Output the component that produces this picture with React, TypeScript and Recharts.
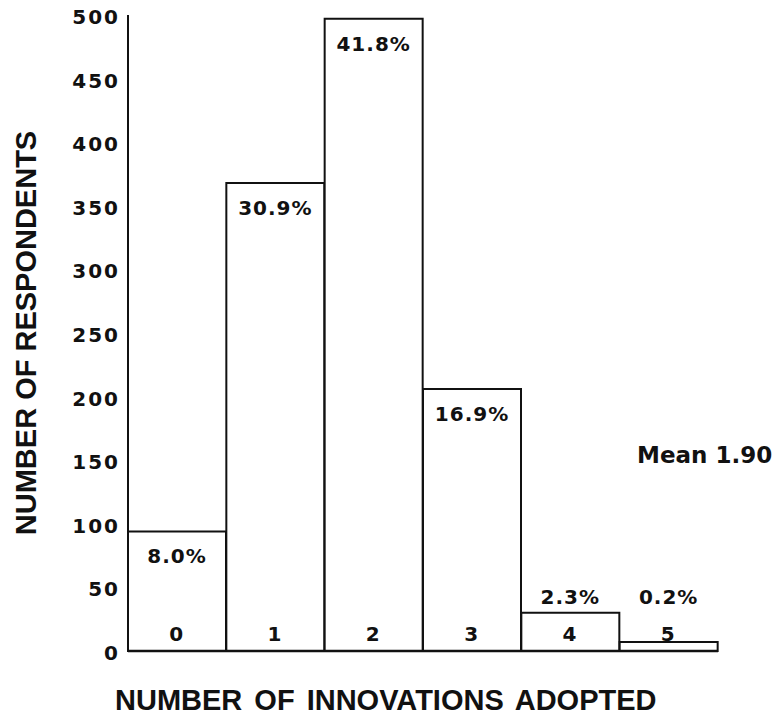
import { Bar, BarChart, Label, LabelList, XAxis, YAxis } from "recharts";

// innovations adopted per respondent
const innovations = ["0", "1", "2", "3", "4", "5"];
const respondents = [94, 368, 497, 206, 30, 7];
const shares = [8.0, 30.9, 41.8, 16.9, 2.3, 0.2];
const countTicks = [0, 50, 100, 150, 200, 250, 300, 350, 400, 450, 500];
const meanAdopted = 1.9;

const data = innovations.map((k, i) => ({
  k,
  n: respondents[i],
  pct: shares[i],
}));

const INK = "#111";
const NUM_FONT = "'DejaVu Sans', sans-serif";
const TITLE_FONT = "'Liberation Sans', Arial, sans-serif";

const numText = {
  fontFamily: NUM_FONT,
  fontWeight: 700,
  fontSize: 20,
  fill: INK,
  letterSpacing: 2,
} as const;

function CountTick({ x, y, payload }: any) {
  return (
    <text x={x} y={y + 2} textAnchor="end" dominantBaseline="central" {...numText}>
      {payload.value}
    </text>
  );
}

// category numbers sit inside the bars, just above the baseline
function InnovationTick({ x, y, payload }: any) {
  return (
    <text x={x} y={y - 17} textAnchor="middle" dominantBaseline="central" {...numText}>
      {payload.value}
    </text>
  );
}

// tall bars get the share inside the top, short ones above the bar
function ShareLabel({ x, y, width, height, value }: any) {
  const cx = x + width / 2;
  const ty = height > 60 ? y + 25 : y + height - 54;
  return (
    <text x={cx} y={ty} textAnchor="middle" dominantBaseline="central" {...numText} letterSpacing={1}>
      {Number(value).toFixed(1)}%
    </text>
  );
}

const titleStyle = {
  fontFamily: TITLE_FONT,
  fontWeight: 700,
  fontSize: 29,
  fill: INK,
} as const;

export default function App() {
  return (
    <div style={{ position: "absolute", left: 0, top: 0, width: 780, height: 720, background: "#fff" }}>
      <BarChart
        width={780}
        height={720}
        data={data}
        margin={{ top: 15, right: 62, bottom: 0, left: 0 }}
        barCategoryGap={0}
      >
        <Bar dataKey="n" fill="#fff" stroke={INK} strokeWidth={2} isAnimationActive={false}>
          <LabelList dataKey="pct" content={ShareLabel} />
        </Bar>
        <YAxis
          width={128}
          domain={[0, 500]}
          ticks={countTicks}
          tickLine={false}
          tickSize={0}
          tickMargin={8}
          axisLine={{ stroke: INK, strokeWidth: 2 }}
          tick={CountTick}
        >
          <Label
            content={({ viewBox }: any) => (
              <text
                x={viewBox.x + 26}
                y={viewBox.y + viewBox.height / 2}
                textAnchor="middle"
                dominantBaseline="central"
                transform={`rotate(-90 ${viewBox.x + 26} ${viewBox.y + viewBox.height / 2})`}
                {...titleStyle}
              >
                NUMBER OF RESPONDENTS
              </text>
            )}
          />
        </YAxis>
        <XAxis
          dataKey="k"
          height={69}
          tickLine={false}
          tickSize={0}
          tickMargin={0}
          axisLine={{ stroke: INK, strokeWidth: 2.5 }}
          tick={InnovationTick}
        >
          <Label
            content={({ viewBox }: any) => (
              <text
                x={viewBox.x - 13}
                y={viewBox.y + 49}
                textAnchor="start"
                dominantBaseline="central"
                wordSpacing={4}
                {...titleStyle}
              >
                NUMBER OF INNOVATIONS ADOPTED
              </text>
            )}
          />
        </XAxis>
      </BarChart>
      <div
        style={{
          position: "absolute",
          left: 637,
          top: 444,
          fontFamily: NUM_FONT,
          fontWeight: 700,
          fontSize: 23,
          lineHeight: "23px",
          color: INK,
          whiteSpace: "nowrap",
        }}
      >
        Mean {meanAdopted.toFixed(2)}
      </div>
    </div>
  );
}
